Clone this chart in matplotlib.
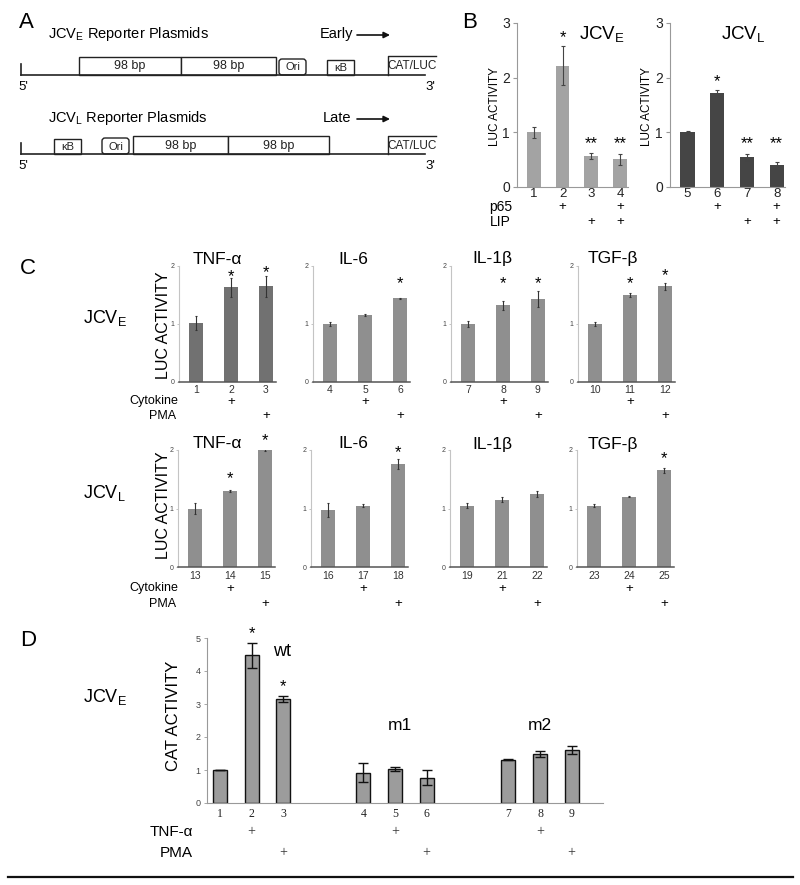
import matplotlib
matplotlib.use('Agg')
import matplotlib.pyplot as plt
import matplotlib.transforms as mtransforms
from matplotlib.patches import Rectangle, FancyBboxPatch
from matplotlib.lines import Line2D

plt.rcParams['font.family'] = ['Liberation Sans', 'DejaVu Sans']
plt.rcParams['mathtext.fontset'] = 'custom'
plt.rcParams['mathtext.rm'] = 'Liberation Sans'
plt.rcParams['mathtext.it'] = 'Liberation Sans:italic'

# ---------------- data ----------------
# Panel B
b_e_lanes = ['1', '2', '3', '4']
b_e_vals = [1.00, 2.22, 0.57, 0.51]
b_e_err = [0.10, 0.36, 0.05, 0.10]
b_e_stars = ['', '*', '**', '**']
b_e_star_y = [0, 2.82, 0.88, 0.88]
b_l_lanes = ['5', '6', '7', '8']
b_l_vals = [1.00, 1.72, 0.55, 0.40]
b_l_err = [0.03, 0.06, 0.06, 0.05]
b_l_stars = ['', '*', '**', '**']
b_l_star_y = [0, 2.02, 0.88, 0.88]
b_p65 = [False, True, False, True]
b_lip = [False, False, True, True]

# Panel C
c_cytokines = ['TNF-α', 'IL-6', 'IL-1β', 'TGF-β']
c_e_lanes = [['1', '2', '3'], ['4', '5', '6'], ['7', '8', '9'], ['10', '11', '12']]
c_e_vals = [[1.02, 1.63, 1.65], [1.00, 1.15, 1.44], [1.00, 1.32, 1.43], [1.00, 1.50, 1.65]]
c_e_err = [[0.12, 0.16, 0.18], [0.04, 0.02, 0.01], [0.05, 0.08, 0.14], [0.03, 0.04, 0.06]]
c_e_stars = [['', '*', '*'], ['', '', '*'], ['', '*', '*'], ['', '*', '*']]
c_e_star_y = [[0, 1.90, 1.97], [0, 0, 1.78], [0, 1.78, 1.78], [0, 1.78, 1.91]]
c_l_lanes = [['13', '14', '15'], ['16', '17', '18'], ['19', '21', '22'], ['23', '24', '25']]
c_l_vals = [[1.00, 1.30, 2.00], [0.97, 1.05, 1.76], [1.05, 1.15, 1.25], [1.05, 1.20, 1.65]]
c_l_err = [[0.10, 0.01, 0.02], [0.12, 0.02, 0.08], [0.04, 0.04, 0.05], [0.02, 0.01, 0.04]]
c_l_stars = [['', '*', '*'], ['', '', '*'], ['', '', ''], ['', '', '*']]
c_l_star_y = [[0, 1.59, 2.24], [0, 0, 2.03], [0, 0, 0], [0, 0, 1.93]]
c_cyto = [False, True, False]
c_pma = [False, False, True]

# Panel D
d_groups = ['wt', 'm1', 'm2']
d_lanes = ['1', '2', '3', '4', '5', '6', '7', '8', '9']
d_vals = [1.00, 4.47, 3.15, 0.92, 1.03, 0.77, 1.31, 1.48, 1.60]
d_err = [0.01, 0.39, 0.10, 0.28, 0.06, 0.22, 0.02, 0.10, 0.13]
d_stars = ['', '*', '*', '', '', '', '', '', '']
d_star_y = [0, 5.26, 3.66, 0, 0, 0, 0, 0, 0]
d_tnf = [False, True, False] * 3
d_pma = [False, False, True] * 3

# ---------------- layout helpers ----------------
W, H = 800, 885
fig = plt.figure(figsize=(8, 8.85), dpi=100)


def add_ax(x0, y0, x1, y1):
    return fig.add_axes([x0 / W, 1 - y1 / H, (x1 - x0) / W, (y1 - y0) / H])


def ftext(x, y, s, **kw):
    return fig.text(x / W, 1 - y / H, s, **kw)


def row_marks(ax, xs, flags, y_px, s='+', **kw):
    tr = mtransforms.blended_transform_factory(ax.transData, fig.transFigure)
    for x, f in zip(xs, flags):
        if f:
            ax.text(x, 1 - y_px / H, s, transform=tr, ha='center', va='center',
                    clip_on=False, **kw)


def lane_labels(ax, xs, labels, y_px, **kw):
    tr = mtransforms.blended_transform_factory(ax.transData, fig.transFigure)
    for x, s in zip(xs, labels):
        ax.text(x, 1 - y_px / H, s, transform=tr, ha='center', va='center',
                clip_on=False, **kw)


def stars(ax, xs, marks, ys, size):
    for x, m, y in zip(xs, marks, ys):
        if m:
            ax.annotate(m, (x, y), xytext=(0, -size * 0.55), textcoords='offset points',
                        ha='center', va='baseline', fontsize=size, annotation_clip=False)


# ---------------- Panel A (schematic) ----------------
axA = add_ax(0, 0, 440, 175)
axA.set_xlim(0, 440)
axA.set_ylim(175, 0)
axA.axis('off')

ftext(19, 23, 'A', fontsize=16, va='center')


def plasmid(base_y, boxes, title, title_y, dir_label, dir_x):
    axA.plot([21, 425], [base_y, base_y], color='#222', lw=1.2)
    axA.plot([21, 21], [base_y - 11, base_y], color='#222', lw=1.2)
    for lab, x0, x1, top, kind, fs in boxes:
        if kind == 'round':
            p = FancyBboxPatch((x0, top), x1 - x0, base_y - top,
                               boxstyle='round,pad=0,rounding_size=3',
                               fc='white', ec='#222', lw=1.0)
            axA.add_patch(p)
        elif kind == 'open':
            axA.plot([x0, x0, x1], [base_y, top, top], color='#222', lw=1.0)
        else:
            axA.add_patch(Rectangle((x0, top), x1 - x0, base_y - top,
                                    fc='white', ec='#222', lw=1.0))
        axA.text((x0 + x1) / 2 if kind != 'open' else x0 + 24, (top + base_y) / 2 + 0.5, lab,
                 ha='center', va='center', fontsize=fs, color='#222')
    axA.text(18, base_y + 12, "5'", fontsize=9.5, va='center', ha='left')
    axA.text(425, base_y + 12, "3'", fontsize=9.5, va='center', ha='left')
    axA.text(48, title_y, title, fontsize=10.5, va='baseline', ha='left')
    axA.text(dir_x, title_y, dir_label, fontsize=10.5, va='baseline', ha='left')
    axA.annotate('', xy=(390, title_y - 3), xytext=(357, title_y - 3),
                 arrowprops=dict(arrowstyle='-|>', color='#111', lw=1.2,
                                 mutation_scale=9, shrinkA=0, shrinkB=0))


plasmid(75, [('98 bp', 79, 181, 57, 'box', 9), ('98 bp', 181, 276, 57, 'box', 9),
             ('Ori', 279, 306, 59, 'round', 8), ('κB', 327, 354, 60, 'box', 8),
             ('CAT/LUC', 388, 436, 56, 'open', 8.5)],
        r'JCV$_{\mathrm{E}}$ Reporter Plasmids', 38, 'Early', 320)
plasmid(154, [('κB', 54, 81, 139, 'box', 8), ('Ori', 102, 129, 138, 'round', 8),
              ('98 bp', 133, 228, 136, 'box', 9), ('98 bp', 228, 329, 136, 'box', 9),
              ('CAT/LUC', 388, 436, 136, 'open', 8.5)],
        r'JCV$_{\mathrm{L}}$ Reporter Plasmids', 122, 'Late', 323)

# ---------------- Panel B ----------------
ftext(462, 22, 'B', fontsize=16, va='center')


def panel_b(x0, x1, lanes, vals, errs, color, mk, mky, title, title_x, ylab_x):
    ax = add_ax(x0, 23, x1, 187)
    pos = list(range(1, len(vals) + 1))
    ax.bar(pos, vals, width=0.48, color=color, yerr=errs,
           error_kw=dict(ecolor='#444', elinewidth=0.8, capsize=1.5, capthick=0.8))
    ax.set_xlim(0.41, 4.28)
    ax.set_ylim(0, 3)
    ax.set_yticks([0, 1, 2, 3])
    ax.set_xticks(pos, [''] * len(pos))
    ax.tick_params(axis='x', length=0)
    lane_labels(ax, pos, lanes, 194, fontsize=9.5, color='#222')
    ax.tick_params(axis='y', length=3, width=0.8, color='#999', pad=2, labelsize=10,
                   labelcolor='#222')
    for s in ['top', 'right']:
        ax.spines[s].set_visible(False)
    ax.spines['left'].set_color('#999')
    ax.spines['bottom'].set_color('#999')
    stars(ax, pos, mk, mky, 12)
    row_marks(ax, pos, b_p65, 207, fontsize=9.5)
    row_marks(ax, pos, b_lip, 222, fontsize=9.5)
    ftext(title_x, 39, title, fontsize=13.5, ha='center', va='baseline')
    ftext(ylab_x, 107, 'LUC ACTIVITY', fontsize=8.5, rotation=90, ha='center', va='center')
    return ax


panel_b(517, 628, b_e_lanes, b_e_vals, b_e_err, '#a3a3a3', b_e_stars, b_e_star_y,
        r'JCV$_{\mathrm{E}}$', 602, 495)
panel_b(670, 785, b_l_lanes, b_l_vals, b_l_err, '#454545', b_l_stars, b_l_star_y,
        r'JCV$_{\mathrm{L}}$', 743, 647)
ftext(512, 207, 'p65', fontsize=10, ha='right', va='center')
ftext(511, 222, 'LIP', fontsize=10, ha='right', va='center')

# ---------------- Panel C ----------------
ftext(20, 268, 'C', fontsize=16, va='center')
c_top_lefts = [179, 313, 451, 578]
c_bot_lefts = [178, 311, 450, 577]
c_top_title_x = [217, 353, 492, 613]
c_colors_e = ['#717171', '#8f8f8f', '#8f8f8f', '#8f8f8f']


def panel_c(left, ytop, ybot, lanes, vals, errs, color, mk, mky, lane_y, cyto_y, pma_y):
    ax = add_ax(left, ytop, left + 97, ybot)
    pos = [1, 2, 3]
    ax.bar(pos, vals, width=0.42, color=color, yerr=errs,
           error_kw=dict(ecolor='#333', elinewidth=0.8, capsize=1, capthick=0.8))
    ax.set_xlim(0.51, 3.29)
    ax.set_ylim(0, 2)
    ax.set_yticks([0, 1, 2])
    ax.set_xticks(pos, [''] * 3)
    ax.tick_params(axis='x', length=0)
    lane_labels(ax, pos, lanes, lane_y, fontsize=7.5, color='#333')
    ax.tick_params(axis='y', length=1.5, width=0.6, color='#bbb', pad=1.5, labelsize=5,
                   labelcolor='#444')
    for s in ['top', 'right']:
        ax.spines[s].set_visible(False)
    ax.spines['left'].set_color('#c4c4c4')
    ax.spines['left'].set_linewidth(0.8)
    ax.spines['bottom'].set_color('#555')
    ax.spines['bottom'].set_linewidth(1.1)
    stars(ax, pos, mk, mky, 12)
    row_marks(ax, pos, c_cyto, cyto_y, fontsize=9.5)
    row_marks(ax, pos, c_pma, pma_y, fontsize=9.5)
    return ax


for i in range(4):
    panel_c(c_top_lefts[i], 266, 382, c_e_lanes[i], c_e_vals[i], c_e_err[i], c_colors_e[i],
            c_e_stars[i], c_e_star_y[i], 390, 402, 416)
    ftext(c_top_title_x[i], 259, c_cytokines[i], fontsize=12.5, ha='center', va='center')
    panel_c(c_bot_lefts[i], 450, 567, c_l_lanes[i], c_l_vals[i], c_l_err[i], '#8f8f8f',
            c_l_stars[i], c_l_star_y[i], 576, 589, 604)
    ftext(c_top_title_x[i], 444, c_cytokines[i], fontsize=12.5, ha='center', va='center')

ftext(163, 325, 'LUC ACTIVITY', fontsize=11.5, rotation=90, ha='center', va='center')
ftext(163, 505, 'LUC ACTIVITY', fontsize=11.5, rotation=90, ha='center', va='center')
ftext(83, 323, r'JCV$_{\mathrm{E}}$', fontsize=13, ha='left', va='baseline')
ftext(83, 498, r'JCV$_{\mathrm{L}}$', fontsize=13, ha='left', va='baseline')
for y_cyto, y_pma in [(401, 416), (588, 604)]:
    ftext(178, y_cyto, 'Cytokine', fontsize=9, ha='right', va='center')
    ftext(176, y_pma, 'PMA', fontsize=9, ha='right', va='center')

# ---------------- Panel D ----------------
ftext(20, 640, 'D', fontsize=16, va='center')
axD = add_ax(207, 638, 603, 803)
d_group_start = [1.0, 5.62, 10.3]
d_pos = [g + k * 1.02 for g in d_group_start for k in range(3)]
axD.bar(d_pos, d_vals, width=0.45, color='#9c9c9c', edgecolor='#111', linewidth=1.0,
        yerr=d_err, error_kw=dict(ecolor='#111', elinewidth=1.0, capsize=3.5, capthick=1.0))
axD.set_xlim(0.58, 13.35)
axD.set_ylim(0, 5)
axD.set_yticks([0, 1, 2, 3, 4, 5])
axD.set_xticks(d_pos, [''] * len(d_pos))
axD.tick_params(axis='x', length=0)
lane_labels(axD, d_pos, d_lanes, 814, fontsize=8.5, color='#222', fontfamily='Liberation Serif')
axD.tick_params(axis='y', length=2.5, width=0.6, color='#999', pad=2, labelsize=6.5,
                labelcolor='#444')
for s in ['top', 'right']:
    axD.spines[s].set_visible(False)
axD.spines['left'].set_color('#999')
axD.spines['bottom'].set_color('#999')
stars(axD, d_pos, d_stars, d_star_y, 12)
row_marks(axD, d_pos, d_tnf, 832, fontsize=10, fontfamily='Liberation Serif', color='#333')
row_marks(axD, d_pos, d_pma, 853, fontsize=10, fontfamily='Liberation Serif', color='#333')
ftext(273, 651, d_groups[0], fontsize=13, ha='left', va='center')
ftext(388, 726, d_groups[1], fontsize=12.5, ha='left', va='center')
ftext(528, 726, d_groups[2], fontsize=12.5, ha='left', va='center')
ftext(173, 716, 'CAT ACTIVITY', fontsize=12, rotation=90, ha='center', va='center')
ftext(83, 702, r'JCV$_{\mathrm{E}}$', fontsize=13, ha='left', va='baseline')
ftext(193, 832, 'TNF-α', fontsize=11, ha='right', va='center')
ftext(193, 853, 'PMA', fontsize=11, ha='right', va='center')

fig.add_artist(Line2D([8 / W, 793 / W], [1 - 877 / H, 1 - 877 / H], color='#111', lw=1.6))

fig.savefig('out.png', dpi=100)
